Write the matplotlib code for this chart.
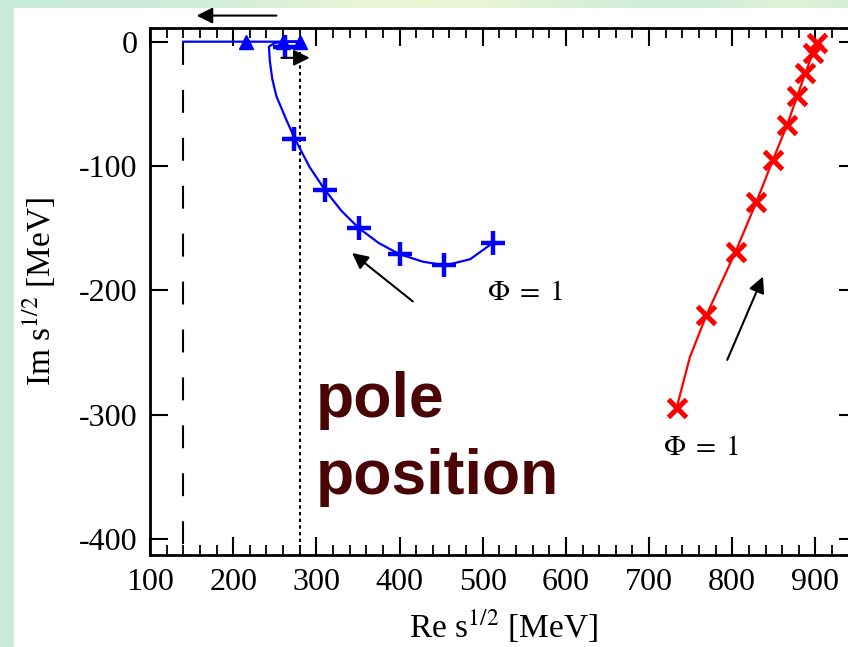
import numpy as np
import matplotlib
matplotlib.use("Agg")
import matplotlib.pyplot as plt

plt.rcParams['font.family'] = ['Liberation Serif', 'DejaVu Serif']
plt.rcParams['mathtext.fontset'] = 'stix'
plt.rcParams['axes.unicode_minus'] = False

# thresholds (vertical lines)
m_pi = 140
two_m_pi = 280

# states on the real axis
tri_re = [216, 260, 280]
tri_im = [0, 0, 0]

# blue resonance trajectory (line) and its markers
blue_re = [140, 280, 262, 250, 243, 244, 247, 252, 264, 274, 292, 310, 330, 351,
           375, 400, 428, 455, 485, 512]
blue_im = [0, 0, 0, -1, -4, -15, -30, -44, -63, -78, -101, -119, -136, -150,
           -162, -171, -177, -180, -175, -162]
plus_re = [262, 273, 310, 351, 400, 454, 512]
plus_im = [-4, -78, -119, -150, -171, -180, -162]

# red trajectory
red_re = [733, 749, 769, 804, 829, 849, 866, 878, 888, 897, 902]
red_im = [-295, -254, -220, -169, -129, -95, -67, -44, -25, -9, -1]
cross_re = [733, 769, 804, 829, 849, 866, 878, 888, 897, 902]
cross_im = [-295, -220, -169, -129, -95, -67, -44, -25, -9, -1]

W, H = 848, 647
fig = plt.figure(figsize=(W / 100, H / 100), dpi=100)

# slide-like background
bg = fig.add_axes([0, 0, 1, 1])
bg.axis('off')
img = np.ones((H, W, 3))
mint = np.array([0.79, 0.925, 0.855])
yellow = np.array([0.93, 0.965, 0.83])
xs = np.arange(W)
t = np.clip(np.exp(-((xs - 420) / 170.0) ** 2) + 0.6 * np.exp(-((xs - 790) / 60.0) ** 2), 0, 1)
band = mint[None, :] * (1 - t[:, None]) + yellow[None, :] * t[:, None]
img[:8, :, :] = band[None, :, :]
img[:, :14, :] = mint
bg.imshow(img, aspect='auto', extent=[0, 1, 0, 1])
bg.set_xlim(0, 1)
bg.set_ylim(0, 1)

ax = fig.add_axes([150 / W, (H - 555) / H, (857 - 150) / W, (555 - 28) / H])
ax.set_facecolor('white')

ax.plot([m_pi, m_pi], [0, -413], color='k', lw=1.5, ls=(0, (11, 12)))
ax.plot([two_m_pi, two_m_pi], [-8, -413], color='k', lw=1.5, ls=(0, (1.6, 1.6)))

ax.plot(blue_re, blue_im, color='#0000ff', lw=1.6)
ax.plot(tri_re, tri_im, ls='none', marker='^', ms=10, color='#0000ff')
ax.plot(plus_re, plus_im, ls='none', marker='+', ms=17, mew=3.2, color='#0000ff')

ax.plot(red_re, red_im, color='#ff0000', lw=1.6)
ax.plot(cross_re, cross_im, ls='none', marker='x', ms=13, mew=3.6, color='#ff0000')

arrow = dict(arrowstyle='-|>', color='k', lw=1.5, mutation_scale=24, shrinkA=0, shrinkB=0)
ax.annotate('', xy=(156, 21), xytext=(252, 21), arrowprops=arrow, annotation_clip=False)
ax.annotate('', xy=(292, -13), xytext=(258, -13), arrowprops=arrow)
ax.annotate('', xy=(343, -170), xytext=(416, -209), arrowprops=arrow)
ax.annotate('', xy=(837, -189), xytext=(794, -256), arrowprops=arrow)

ax.text(505, -202, r'$\Phi\;=\;1$', fontsize=21, ha='left', va='center')
ax.text(717, -327, r'$\Phi\;=\;1$', fontsize=21, ha='left', va='center')

ax.text(299, -302, 'pole', fontsize=45, fontweight='bold', color='#4a0404',
        family=['Liberation Sans', 'DejaVu Sans'], ha='left', va='baseline')
ax.text(299, -364, 'position', fontsize=45, fontweight='bold', color='#4a0404',
        family=['Liberation Sans', 'DejaVu Sans'], ha='left', va='baseline')

ax.set_xlim(100, 950)
ax.set_ylim(-413, 11)
ax.set_xticks(np.arange(100, 1000, 100))
ax.set_xticks(np.arange(100, 960, 20), minor=True)
ax.set_yticks([0, -100, -200, -300, -400])
ax.tick_params(which='both', direction='in', top=True, right=True, labelsize=23, pad=9)
ax.tick_params(which='major', length=13, width=1.5)
ax.tick_params(which='minor', length=7, width=1.3)
for s in ax.spines.values():
    s.set_linewidth(2)

ax.set_xlabel(r'Re s$^{1/2}$ [MeV]', fontsize=24)
ax.set_ylabel(r'Im s$^{1/2}$ [MeV]', fontsize=24)
ax.xaxis.set_label_coords(0.5, -0.1)
ax.yaxis.set_label_coords(-0.13, 0.5)

fig.savefig('out.png', dpi=100)
